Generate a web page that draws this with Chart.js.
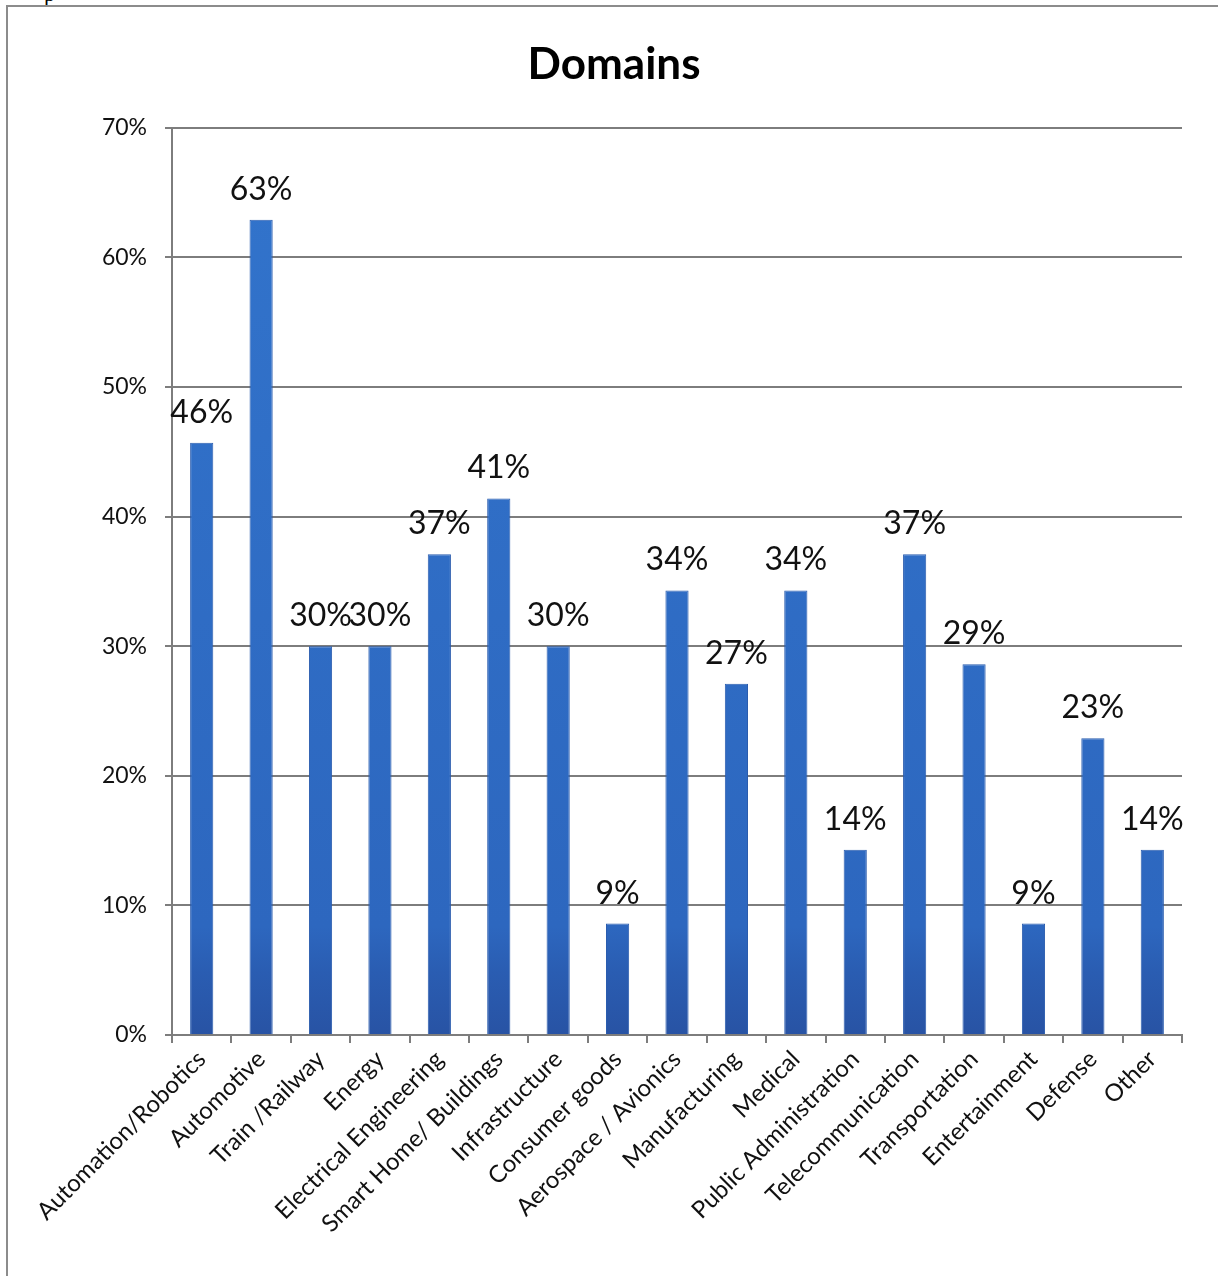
<!DOCTYPE html>
<html>
<head>
<meta charset="utf-8">
<title>Domains</title>
<script src="https://cdn.jsdelivr.net/npm/chart.js@4/dist/chart.umd.min.js"></script>
<style>
    html, body { margin: 0; padding: 0; background: #fff; }
    .page { position: relative; width: 1218px; height: 1276px; overflow: hidden; }
    .frame {
        position: absolute; left: 6px; top: 5px; right: -10px; bottom: -10px;
        border-left: 2px solid #8c8c8c; border-top: 2px solid #8c8c8c;
    }
    .stray { position: absolute; left: 44px; top: -19px; font: 22px "Liberation Serif", serif; color: #000; }
    .chart-box { position: absolute; left: 0; top: 0; width: 1218px; height: 1276px; }
</style>
</head>
<body>
<div class="page">
    <div class="stray">p</div>
    <div class="frame"></div>
    <div class="chart-box"><canvas id="domains-chart"></canvas></div>
</div>
<script>
const categories = [
    "Automation/Robotics", "Automotive", "Train /Railway", "Energy",
    "Electrical Engineering", "Smart Home/ Buildings", "Infrastructure",
    "Consumer goods", "Aerospace / Avionics", "Manufacturing", "Medical",
    "Public Administration", "Telecommunication", "Transportation",
    "Entertainment", "Defense", "Other"
];
// share of respondents per domain, in percent
const shares = [45.7, 62.9, 30.0, 30.0, 37.1, 41.4, 30.0, 8.6, 34.3, 27.1, 34.3, 14.3, 37.1, 28.6, 8.6, 22.9, 14.3];
const yTicks = [0, 10, 20, 30, 40, 50, 60, 70];

const GRID = "#7d7d7d";
const FONT = "Lato, 'Open Sans', sans-serif";

// percent labels above each bar
const barLabels = {
    id: "barLabels",
    afterDatasetsDraw(chart) {
        const ctx = chart.ctx;
        const meta = chart.getDatasetMeta(0);
        ctx.save();
        ctx.font = "32px " + FONT;
        ctx.fillStyle = "#111";
        ctx.textAlign = "center";
        ctx.textBaseline = "alphabetic";
        meta.data.forEach((bar, i) => {
            ctx.fillText(Math.round(shares[i]) + "%", bar.x, bar.y - 20);
        });
        ctx.restore();
    }
};

function barFill(context) {
    const chart = context.chart;
    const area = chart.chartArea;
    if (!area) return "#2e6cc3";
    const g = chart.ctx.createLinearGradient(0, area.top, 0, area.bottom);
    g.addColorStop(0, "#3274cc");
    g.addColorStop(0.88, "#2d67bf");
    g.addColorStop(0.93, "#2a5db2");
    g.addColorStop(1, "#2853a4");
    return g;
}

document.addEventListener("DOMContentLoaded", () => {
    const ctx = document.getElementById("domains-chart").getContext("2d");
    new Chart(ctx, {
        type: "bar",
        data: {
            labels: categories,
            datasets: [{
                label: "Domains",
                data: shares,
                backgroundColor: barFill,
                borderColor: "#2a5cae",
                borderWidth: 1,
                barPercentage: 0.39,
                categoryPercentage: 1
            }]
        },
        options: {
            responsive: true,
            maintainAspectRatio: false,
            animation: false,
            layout: { padding: { top: 0, right: 36, left: 46, bottom: 0 } },
            plugins: {
                legend: { display: false },
                tooltip: { enabled: false },
                title: {
                    display: true,
                    text: "Domains",
                    color: "#000",
                    font: { family: FONT, size: 44, weight: "bold", lineHeight: 1.2 },
                    padding: { top: 38, bottom: 37 }
                }
            },
            scales: {
                x: {
                    offset: true,
                    grid: {
                        display: true,
                        drawOnChartArea: false,
                        drawTicks: true,
                        tickLength: 8,
                        color: GRID,
                        lineWidth: 2,
                        offset: true
                    },
                    border: { color: GRID, width: 2 },
                    ticks: {
                        autoSkip: false,
                        minRotation: 45,
                        maxRotation: 45,
                        padding: 2,
                        color: "#111",
                        font: { family: FONT, size: 24 }
                    },
                    afterFit(scale) { scale.height = 241; }
                },
                y: {
                    min: 0,
                    max: 70,
                    afterBuildTicks(scale) {
                        scale.ticks = yTicks.map(v => ({ value: v }));
                    },
                    grid: {
                        color: GRID,
                        lineWidth: 2,
                        tickLength: 7
                    },
                    border: { color: GRID, width: 2 },
                    ticks: {
                        padding: 18,
                        color: "#111",
                        font: { family: FONT, size: 23 },
                        callback: v => v + "%"
                    },
                    afterFit(scale) { scale.width = 126; }
                }
            }
        },
        plugins: [barLabels]
    });
});
</script>
</body>
</html>
